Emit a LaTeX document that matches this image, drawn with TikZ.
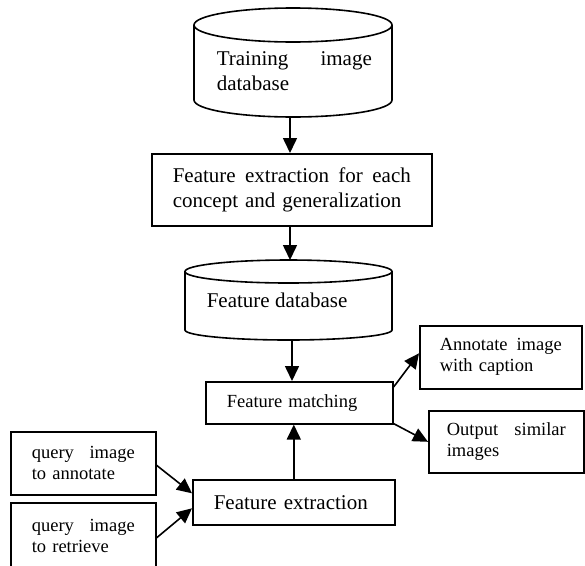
\documentclass[tikz,border=0pt]{standalone}
\usepackage{fontspec}
\setmainfont{Liberation Serif}
\usetikzlibrary{arrows.meta,calc}
\newcommand\spreadline[2]{\hbox to #1{#2}}
\begin{document}
\begin{tikzpicture}[x=1pt,y=-1pt,line width=1.6pt,
  bigtxt/.style={font=\fontsize{21}{25}\selectfont},
  smalltxt/.style={font=\fontsize{18.5}{21}\selectfont},
  box/.style={draw,rectangle,anchor=north west,inner ysep=0pt,align=left},
  cyl/.style={draw,line width=1.6pt},
  arr/.style={-{Triangle[length=15pt,width=14pt]},line width=1.6pt}]
\useasboundingbox (0,0) rectangle (585,565);

% top cylinder
\draw[cyl] (293,25) ellipse [x radius=99pt, y radius=17pt];
\draw[cyl] (194,25) -- (194,100) arc[start angle=180,end angle=360,x radius=99pt,y radius=17pt] -- (392,25);
\coordinate (c1t) at (293,8);
\coordinate (c1b) at (290,117);
\node[bigtxt,anchor=north west,inner sep=0pt,align=left] (train) at (216,50.7)
  {\spreadline{155pt}{Training \hfill image}\\database};

% feature extraction for each concept
\node[box,bigtxt,minimum width=280pt,minimum height=72pt,text width=238pt,inner xsep=21pt] (fe1) at (151,153)
  {\spreadline{238pt}{Feature \hfill extraction \hfill for \hfill each}\\concept and generalization};

% feature database cylinder
\draw[cyl] (288.5,271.5) ellipse [x radius=103.5pt, y radius=11.5pt];
\draw[cyl] (185,271.5) -- (185,330) arc[start angle=180,end angle=360,x radius=103.5pt,y radius=10pt] -- (392,271.5);
\coordinate (c2t) at (290,260);
\coordinate (c2b) at (292,340);
\node[bigtxt,anchor=base west,inner sep=0pt] (fdb) at (206,307) {Feature database};

% feature matching
\node[box,smalltxt,minimum width=187pt,minimum height=42pt,text width=145pt,inner xsep=21pt] (match) at (205,381) {Feature matching};

% outputs
\node[box,smalltxt,minimum width=162pt,minimum height=63pt,text width=122pt,inner xsep=20pt] (annot) at (419,325)
  {\spreadline{122pt}{Annotate \hfill image}\\with caption};
\node[box,smalltxt,minimum width=155pt,minimum height=62pt,text width=119pt,inner xsep=18pt] (out) at (428,410)
  {\spreadline{119pt}{Output \hfill similar}\\images};

% feature extraction
\node[box,bigtxt,minimum width=202pt,minimum height=45pt,text width=160pt,inner xsep=21pt] (ext) at (192,479) {Feature extraction};

% queries
\node[box,smalltxt,minimum width=145pt,minimum height=63pt,text width=103pt,inner xsep=21pt] (q1) at (10,431)
  {\spreadline{103pt}{query \hfill image}\\to annotate};
\node[box,smalltxt,minimum width=145pt,minimum height=66pt,text width=103pt,inner xsep=21pt] (q2) at (10,502)
  {\spreadline{103pt}{query \hfill image}\\to retrieve};

% connectors
\draw[arr] (c1b) -- (c1b |- fe1.north);
\draw[arr] (fe1.south -| c2t) -- (c2t);
\draw[arr] (c2b) -- (c2b |- match.north);
\draw[arr] (ext.north) -- (ext.north |- match.south);
\draw[arr] ($(match.north east)+(0,6)$) -- ($(annot.west)+(0,-4)$);
\draw[arr] ($(match.south east)+(0,-1)$) -- (out.west);
\draw[arr] ($(q1.east)+(0,2)$) -- ($(ext.west)+(0,-9)$);
\draw[arr] ($(q2.east)+(0,2)$) -- ($(ext.west)+(0,6)$);
\end{tikzpicture}
\end{document}
